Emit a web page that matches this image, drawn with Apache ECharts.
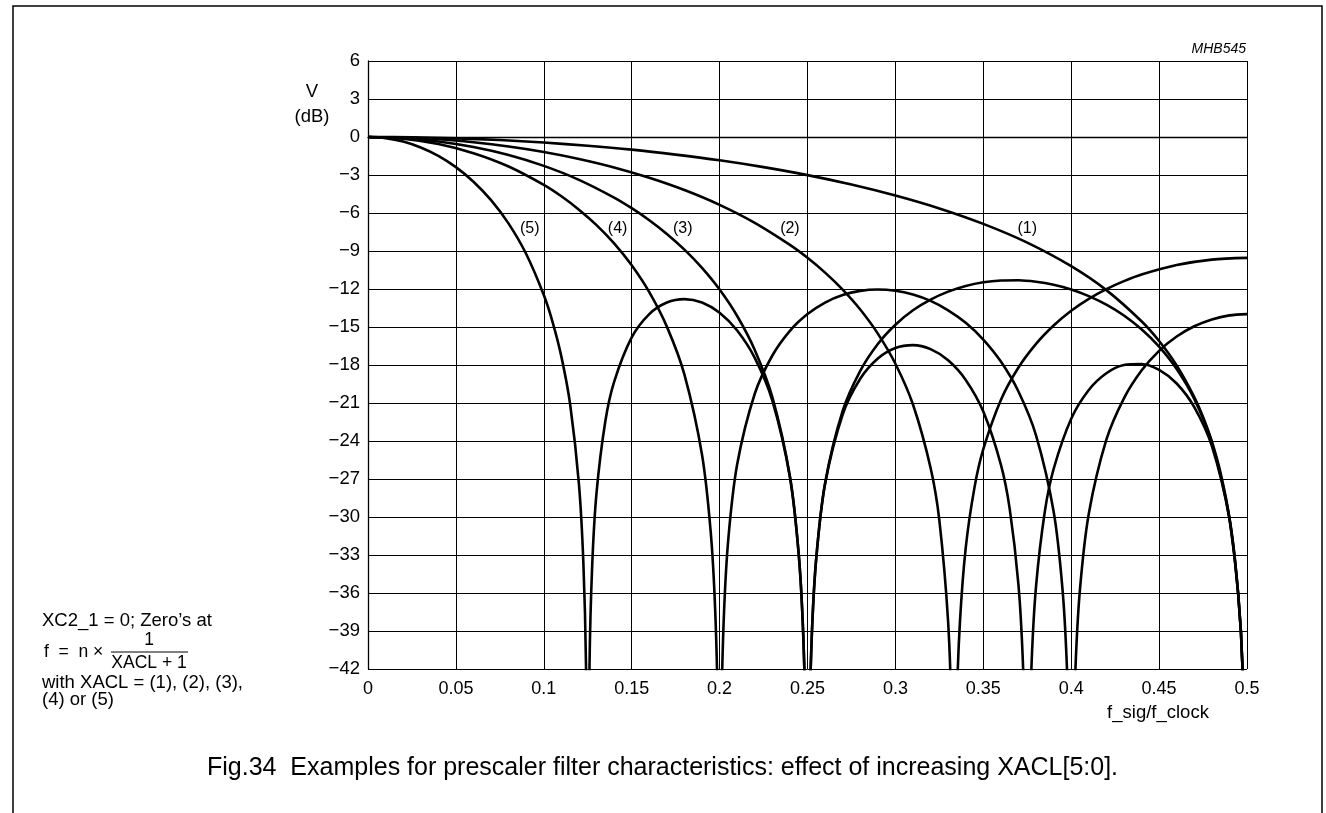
<!DOCTYPE html>
<html>
<head>
<meta charset="utf-8">
<title>Fig.34 prescaler filter characteristics</title>
<script src="https://cdn.jsdelivr.net/npm/echarts@6/dist/echarts.min.js"></script>
<style>
  html, body { margin: 0; padding: 0; background: #fff; }
  #chart { width: 1326px; height: 813px; }
</style>
</head>
<body>
<div id="chart"></div>
<script>
// [f_sig/f_clock, V (dB)], nulls pushed below the axis floor
var curve1 = [[0,0],[0.025,-0.03],[0.05,-0.11],[0.075,-0.24],[0.1,-0.44],[0.125,-0.69],[0.15,-1.00],[0.175,-1.39],[0.2,-1.84],[0.225,-2.38],[0.25,-3.01],[0.275,-3.75],[0.3,-4.62],[0.325,-5.64],[0.35,-6.86],[0.375,-8.34],[0.4,-10.20],[0.42,-12.09],[0.44,-14.55],[0.45,-16.11],[0.46,-18.04],[0.47,-20.53],[0.475,-22.11],[0.48,-24.04],[0.485,-26.54],[0.49,-30.06],[0.495,-36.08],[0.4975,-42.10],[0.5,-60]];
var curve2 = [[0,0],[0.02,-0.05],[0.04,-0.18],[0.06,-0.42],[0.08,-0.75],[0.1,-1.18],[0.12,-1.73],[0.14,-2.40],[0.16,-3.22],[0.18,-4.19],[0.2,-5.36],[0.22,-6.78],[0.24,-8.52],[0.25,-9.54],[0.26,-10.71],[0.27,-12.05],[0.28,-13.62],[0.29,-15.52],[0.3,-17.90],[0.31,-21.12],[0.32,-26.11],[0.325,-30.26],[0.33,-38.30],[0.332,-46.29],[0.3333,-60],[0.335,-44.40],[0.3367,-38.32],[0.34,-32.44],[0.345,-27.66],[0.35,-24.65],[0.36,-20.76],[0.37,-18.20],[0.38,-16.33],[0.39,-14.88],[0.4,-13.72],[0.41,-12.78],[0.42,-12.01],[0.43,-11.38],[0.44,-10.86],[0.46,-10.11],[0.48,-9.68],[0.5,-9.54]];
var curve3 = [[0,0],[0.02,-0.09],[0.04,-0.35],[0.06,-0.79],[0.08,-1.42],[0.1,-2.28],[0.12,-3.38],[0.14,-4.78],[0.15,-5.62],[0.16,-6.57],[0.17,-7.65],[0.18,-8.89],[0.19,-10.33],[0.2,-12.04],[0.21,-14.13],[0.22,-16.81],[0.23,-20.54],[0.24,-26.79],[0.245,-32.93],[0.2475,-39.02],[0.249,-47.02],[0.25,-60],[0.251,-47.07],[0.2525,-39.16],[0.255,-33.21],[0.26,-27.33],[0.27,-21.63],[0.28,-18.46],[0.29,-16.34],[0.3,-14.82],[0.31,-13.68],[0.32,-12.84],[0.33,-12.21],[0.34,-11.76],[0.35,-11.47],[0.36,-11.33],[0.37,-11.31],[0.38,-11.43],[0.39,-11.67],[0.4,-12.04],[0.41,-12.56],[0.42,-13.23],[0.43,-14.09],[0.44,-15.18],[0.45,-16.55],[0.46,-18.32],[0.47,-20.68],[0.48,-24.11],[0.49,-30.08],[0.495,-36.08],[0.4975,-42.10],[0.5,-60]];
var curve4 = [[0,0],[0.02,-0.14],[0.04,-0.56],[0.06,-1.28],[0.08,-2.33],[0.1,-3.78],[0.11,-4.68],[0.12,-5.74],[0.13,-6.96],[0.14,-8.40],[0.15,-10.13],[0.16,-12.25],[0.17,-14.97],[0.18,-18.76],[0.19,-25.09],[0.195,-31.28],[0.1975,-37.39],[0.199,-45.40],[0.2,-60],[0.201,-45.48],[0.2025,-37.58],[0.205,-31.66],[0.21,-25.84],[0.22,-20.27],[0.23,-17.25],[0.24,-15.30],[0.25,-13.98],[0.26,-13.07],[0.27,-12.48],[0.28,-12.15],[0.29,-12.04],[0.3,-12.14],[0.31,-12.44],[0.32,-12.94],[0.33,-13.68],[0.34,-14.67],[0.35,-15.99],[0.36,-17.73],[0.37,-20.09],[0.38,-23.55],[0.39,-29.56],[0.395,-35.61],[0.3975,-41.64],[0.399,-49.6],[0.4,-60],[0.401,-49.6],[0.4025,-41.69],[0.405,-35.69],[0.41,-29.74],[0.42,-23.90],[0.43,-20.63],[0.44,-18.44],[0.45,-16.88],[0.46,-15.75],[0.47,-14.94],[0.48,-14.40],[0.49,-14.08],[0.5,-13.98]];
var curve5 = [[0,0],[0.01,-0.09],[0.02,-0.36],[0.03,-0.83],[0.04,-1.49],[0.05,-2.38],[0.06,-3.53],[0.07,-4.99],[0.08,-6.84],[0.09,-9.24],[0.1,-12.48],[0.105,-14.61],[0.11,-17.34],[0.115,-21.12],[0.12,-27.42],[0.1225,-33.59],[0.124,-41.65],[0.125,-60],[0.126,-41.78],[0.1275,-33.92],[0.13,-28.08],[0.135,-22.44],[0.14,-19.33],[0.15,-15.82],[0.16,-13.98],[0.17,-13.07],[0.18,-12.80],[0.19,-13.07],[0.2,-13.88],[0.21,-15.28],[0.22,-17.44],[0.23,-20.81],[0.24,-26.86],[0.245,-32.95],[0.2475,-39.03],[0.249,-47.02],[0.25,-60],[0.251,-47.07],[0.2525,-39.16],[0.255,-33.22],[0.26,-27.40],[0.27,-21.91],[0.28,-19.09],[0.29,-17.49],[0.3,-16.66],[0.31,-16.43],[0.32,-16.75],[0.33,-17.63],[0.34,-19.18],[0.35,-21.68],[0.36,-25.87],[0.365,-29.34],[0.37,-35.35],[0.3725,-41.39],[0.374,-49.36],[0.375,-60],[0.376,-49.38],[0.3775,-41.44],[0.38,-35.47],[0.385,-29.57],[0.39,-26.21],[0.4,-22.24],[0.41,-19.97],[0.42,-18.65],[0.43,-18.00],[0.44,-17.92],[0.45,-18.39],[0.46,-19.46],[0.47,-21.32],[0.48,-24.39],[0.49,-30.14],[0.495,-36.10],[0.4975,-42.10],[0.5,-60]];

var curveNames = ['(1)', '(2)', '(3)', '(4)', '(5)'];
// where each "(n)" tag sits on the plot
var tagX = [0.375, 0.240, 0.179, 0.142, 0.092];
var tagY = [-7.2, -7.2, -7.2, -7.2, -7.2];

var yMin = -42, yMax = 6, yStep = 3;
var xMin = 0, xMax = 0.5, xStep = 0.05;

var FONT = 'Liberation Sans, Arial, Helvetica, sans-serif';

function curveSeries(name, data) {
  return {
    name: name,
    type: 'line',
    data: data,
    symbol: 'none',
    smooth: 0.3,
    clip: true,
    lineStyle: { color: '#000', width: 2.6 },
    silent: true,
    z: 3
  };
}

var tags = [];
for (var i = 0; i < curveNames.length; i++) {
  tags.push({ value: [tagX[i], tagY[i]], name: curveNames[i] });
}

function txt(x, y, s, size, align, extra) {
  return {
    type: 'text', x: x, y: y, z: 10,
    style: {
      text: s, fill: '#000',
      font: (extra || '') + size + 'px ' + FONT,
      textAlign: align, textVerticalAlign: 'middle'
    }
  };
}

var chart = echarts.init(document.getElementById('chart'), null, { renderer: 'canvas' });

var option = {
  backgroundColor: '#fff',
  animation: false,
  grid: { left: 368, top: 61, width: 879, height: 608 },
  xAxis: {
    type: 'value',
    min: xMin, max: xMax, interval: xStep,
    axisLine: { show: true, lineStyle: { color: '#000', width: 1.3 } },
    axisTick: { show: false },
    axisLabel: { color: '#000', fontSize: 18, fontFamily: FONT, margin: 11 },
    splitLine: { show: true, lineStyle: { color: '#000', width: 1 } }
  },
  yAxis: {
    type: 'value',
    min: yMin, max: yMax, interval: yStep,
    axisLine: { show: true, lineStyle: { color: '#000', width: 1.3 } },
    axisTick: { show: false },
    axisLabel: {
      color: '#000', fontSize: 18.5, fontFamily: FONT, margin: 8,
      formatter: function (v) { return v < 0 ? '\u2212' + Math.abs(v) : String(v); }
    },
    splitLine: { show: true, lineStyle: { color: '#000', width: 1 } }
  },
  series: [
    curveSeries('(1)', curve1),
    curveSeries('(2)', curve2),
    curveSeries('(3)', curve3),
    curveSeries('(4)', curve4),
    curveSeries('(5)', curve5),
    {
      type: 'scatter',
      data: tags,
      symbolSize: 1,
      itemStyle: { opacity: 0 },
      silent: true,
      z: 4,
      label: {
        show: true,
        position: 'inside',
        formatter: '{b}',
        color: '#000',
        opacity: 1,
        fontSize: 16,
        fontFamily: FONT
      }
    }
  ],
  graphic: [
    {
      type: 'rect',
      shape: { x: 13, y: 6, width: 1309, height: 900 },
      style: { fill: 'none', stroke: '#000', lineWidth: 1.5 },
      z: 0
    },
    txt(1246, 49, 'MHB545', 14, 'right', 'italic '),
    txt(312, 92, 'V', 18.5, 'center'),
    txt(312, 117, '(dB)', 18.5, 'center'),
    txt(1158, 713, 'f_sig/f_clock', 18.5, 'center'),
    txt(42, 621, 'XC2_1 = 0; Zero\u2019s at', 18.5, 'left'),
    txt(44, 652, 'f  =  n \u00d7', 17.5, 'left'),
    txt(149, 640, '1', 17.5, 'center'),
    { type: 'line', z: 10, shape: { x1: 111, y1: 652, x2: 188, y2: 652 }, style: { stroke: '#000', lineWidth: 1 } },
    txt(149, 663, 'XACL + 1', 17.5, 'center'),
    txt(42, 683, 'with XACL = (1), (2), (3),', 18.5, 'left'),
    txt(42, 700, '(4) or (5)', 18.5, 'left'),
    txt(207, 768, 'Fig.34  Examples for prescaler filter characteristics: effect of increasing XACL[5:0].', 25, 'left')
  ]
};

chart.setOption(option);
</script>
</body>
</html>
